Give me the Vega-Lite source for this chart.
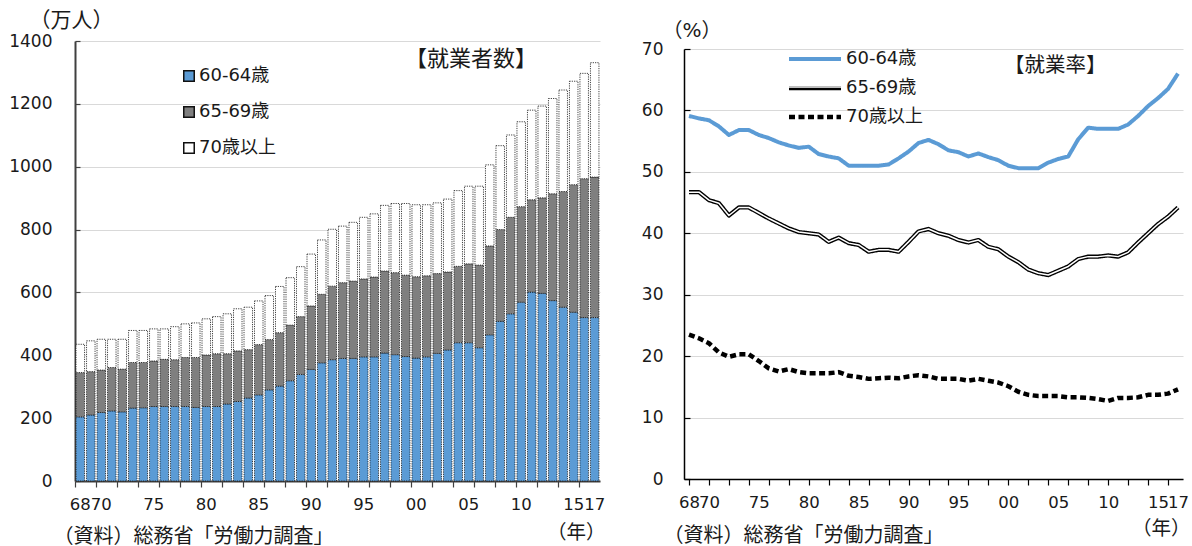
{
  "$schema": "https://vega.github.io/schema/vega-lite/v6.json",
  "autosize": {"type": "none"},
  "padding": {"left": 75, "top": 41, "right": 1117, "bottom": 505},
  "background": "white",
  "config": {
    "font": "DejaVu Sans, Noto Sans CJK JP",
    "view": {"stroke": null},
    "axis": {"labelFont": "DejaVu Sans, Noto Sans CJK JP", "titleFont": "DejaVu Sans, Noto Sans CJK JP", "labelColor": "#1a1a1a", "titleColor": "#1a1a1a", "titleFontWeight": "normal"},
    "legend": {"labelFont": "DejaVu Sans, Noto Sans CJK JP", "labelColor": "#1a1a1a"},
    "title": {"font": "DejaVu Sans, Noto Sans CJK JP", "fontWeight": "normal", "color": "#1a1a1a"}
  },
  "datasets": {
    "employment": [
      {"year": 1968, "60-64歳": 204, "65-69歳": 141, "70歳以上": 90},
      {"year": 1969, "60-64歳": 210, "65-69歳": 138, "70歳以上": 98},
      {"year": 1970, "60-64歳": 218, "65-69歳": 135, "70歳以上": 98},
      {"year": 1971, "60-64歳": 223, "65-69歳": 138, "70歳以上": 90},
      {"year": 1972, "60-64歳": 220, "65-69歳": 136, "70歳以上": 95},
      {"year": 1973, "60-64歳": 232, "65-69歳": 145, "70歳以上": 102},
      {"year": 1974, "60-64歳": 233, "65-69歳": 144, "70歳以上": 102},
      {"year": 1975, "60-64歳": 237, "65-69歳": 145, "70歳以上": 102},
      {"year": 1976, "60-64歳": 237, "65-69歳": 150, "70歳以上": 97},
      {"year": 1977, "60-64歳": 237, "65-69歳": 149, "70歳以上": 105},
      {"year": 1978, "60-64歳": 237, "65-69歳": 156, "70歳以上": 107},
      {"year": 1979, "60-64歳": 234, "65-69歳": 159, "70歳以上": 110},
      {"year": 1980, "60-64歳": 237, "65-69歳": 164, "70歳以上": 115},
      {"year": 1981, "60-64歳": 237, "65-69歳": 168, "70歳以上": 118},
      {"year": 1982, "60-64歳": 245, "65-69歳": 160, "70歳以上": 127},
      {"year": 1983, "60-64歳": 253, "65-69歳": 161, "70歳以上": 134},
      {"year": 1984, "60-64歳": 264, "65-69歳": 154, "70歳以上": 135},
      {"year": 1985, "60-64歳": 274, "65-69歳": 160, "70歳以上": 139},
      {"year": 1986, "60-64歳": 290, "65-69歳": 160, "70歳以上": 140},
      {"year": 1987, "60-64歳": 302, "65-69歳": 170, "70歳以上": 147},
      {"year": 1988, "60-64歳": 319, "65-69歳": 177, "70歳以上": 151},
      {"year": 1989, "60-64歳": 339, "65-69歳": 184, "70歳以上": 159},
      {"year": 1990, "60-64歳": 355, "65-69歳": 202, "70歳以上": 165},
      {"year": 1991, "60-64歳": 376, "65-69歳": 218, "70歳以上": 173},
      {"year": 1992, "60-64歳": 386, "65-69歳": 234, "70歳以上": 181},
      {"year": 1993, "60-64歳": 390, "65-69歳": 241, "70歳以上": 180},
      {"year": 1994, "60-64歳": 390, "65-69歳": 246, "70歳以上": 187},
      {"year": 1995, "60-64歳": 395, "65-69歳": 248, "70歳以上": 196},
      {"year": 1996, "60-64歳": 395, "65-69歳": 254, "70歳以上": 201},
      {"year": 1997, "60-64歳": 407, "65-69歳": 261, "70歳以上": 209},
      {"year": 1998, "60-64歳": 402, "65-69歳": 261, "70歳以上": 220},
      {"year": 1999, "60-64歳": 396, "65-69歳": 259, "70歳以上": 228},
      {"year": 2000, "60-64歳": 391, "65-69歳": 259, "70歳以上": 229},
      {"year": 2001, "60-64歳": 395, "65-69歳": 258, "70歳以上": 226},
      {"year": 2002, "60-64歳": 406, "65-69歳": 254, "70歳以上": 225},
      {"year": 2003, "60-64歳": 417, "65-69歳": 248, "70歳以上": 232},
      {"year": 2004, "60-64歳": 440, "65-69歳": 243, "70歳以上": 241},
      {"year": 2005, "60-64歳": 440, "65-69歳": 251, "70歳以上": 247},
      {"year": 2006, "60-64歳": 424, "65-69歳": 263, "70歳以上": 251},
      {"year": 2007, "60-64歳": 465, "65-69歳": 283, "70歳以上": 258},
      {"year": 2008, "60-64歳": 508, "65-69歳": 292, "70歳以上": 267},
      {"year": 2009, "60-64歳": 532, "65-69歳": 307, "70歳以上": 262},
      {"year": 2010, "60-64歳": 569, "65-69歳": 304, "70歳以上": 270},
      {"year": 2011, "60-64歳": 601, "65-69歳": 294, "70歳以上": 285},
      {"year": 2012, "60-64歳": 597, "65-69歳": 304, "70歳以上": 292},
      {"year": 2013, "60-64歳": 574, "65-69歳": 340, "70歳以上": 303},
      {"year": 2014, "60-64歳": 553, "65-69歳": 368, "70歳以上": 323},
      {"year": 2015, "60-64歳": 537, "65-69歳": 406, "70歳以上": 329},
      {"year": 2016, "60-64歳": 520, "65-69歳": 442, "70歳以上": 335},
      {"year": 2017, "60-64歳": 520, "65-69歳": 447, "70歳以上": 364}
    ],
    "rate": [
      {"year": 1968, "60-64歳": 59.1, "65-69歳": 46.7, "70歳以上": 23.5},
      {"year": 1969, "60-64歳": 58.7, "65-69歳": 46.7, "70歳以上": 22.9},
      {"year": 1970, "60-64歳": 58.4, "65-69歳": 45.4, "70歳以上": 22.1},
      {"year": 1971, "60-64歳": 57.4, "65-69歳": 44.9, "70歳以上": 20.6},
      {"year": 1972, "60-64歳": 56.0, "65-69歳": 42.9, "70歳以上": 19.9},
      {"year": 1973, "60-64歳": 56.8, "65-69歳": 44.2, "70歳以上": 20.3},
      {"year": 1974, "60-64歳": 56.8, "65-69歳": 44.2, "70歳以上": 20.3},
      {"year": 1975, "60-64歳": 56.0, "65-69歳": 43.3, "70歳以上": 19.2},
      {"year": 1976, "60-64歳": 55.5, "65-69歳": 42.4, "70歳以上": 18.0},
      {"year": 1977, "60-64歳": 54.8, "65-69歳": 41.6, "70歳以上": 17.5},
      {"year": 1978, "60-64歳": 54.3, "65-69歳": 40.8, "70歳以上": 17.9},
      {"year": 1979, "60-64歳": 53.9, "65-69歳": 40.2, "70歳以上": 17.4},
      {"year": 1980, "60-64歳": 54.1, "65-69歳": 40.0, "70歳以上": 17.2},
      {"year": 1981, "60-64歳": 52.9, "65-69歳": 39.8, "70歳以上": 17.2},
      {"year": 1982, "60-64歳": 52.5, "65-69歳": 38.6, "70歳以上": 17.2},
      {"year": 1983, "60-64歳": 52.2, "65-69歳": 39.3, "70歳以上": 17.4},
      {"year": 1984, "60-64歳": 51.0, "65-69歳": 38.4, "70歳以上": 16.8},
      {"year": 1985, "60-64歳": 51.0, "65-69歳": 38.1, "70歳以上": 16.6},
      {"year": 1986, "60-64歳": 51.0, "65-69歳": 37.0, "70歳以上": 16.3},
      {"year": 1987, "60-64歳": 51.0, "65-69歳": 37.3, "70歳以上": 16.4},
      {"year": 1988, "60-64歳": 51.2, "65-69歳": 37.3, "70歳以上": 16.5},
      {"year": 1989, "60-64歳": 52.2, "65-69歳": 37.0, "70歳以上": 16.4},
      {"year": 1990, "60-64歳": 53.3, "65-69歳": 38.6, "70歳以上": 16.7},
      {"year": 1991, "60-64歳": 54.7, "65-69歳": 40.3, "70歳以上": 16.9},
      {"year": 1992, "60-64歳": 55.2, "65-69歳": 40.7, "70歳以上": 16.7},
      {"year": 1993, "60-64歳": 54.5, "65-69歳": 40.0, "70歳以上": 16.3},
      {"year": 1994, "60-64歳": 53.5, "65-69歳": 39.6, "70歳以上": 16.3},
      {"year": 1995, "60-64歳": 53.2, "65-69歳": 38.9, "70歳以上": 16.3},
      {"year": 1996, "60-64歳": 52.5, "65-69歳": 38.5, "70歳以上": 16.0},
      {"year": 1997, "60-64歳": 53.0, "65-69歳": 38.9, "70歳以上": 16.3},
      {"year": 1998, "60-64歳": 52.4, "65-69歳": 37.8, "70歳以上": 16.0},
      {"year": 1999, "60-64歳": 51.9, "65-69歳": 37.4, "70歳以上": 15.7},
      {"year": 2000, "60-64歳": 51.0, "65-69歳": 36.2, "70歳以上": 15.1},
      {"year": 2001, "60-64歳": 50.6, "65-69歳": 35.3, "70歳以上": 14.2},
      {"year": 2002, "60-64歳": 50.6, "65-69歳": 34.1, "70歳以上": 13.7},
      {"year": 2003, "60-64歳": 50.6, "65-69歳": 33.5, "70歳以上": 13.5},
      {"year": 2004, "60-64歳": 51.5, "65-69歳": 33.2, "70歳以上": 13.5},
      {"year": 2005, "60-64歳": 52.1, "65-69歳": 33.9, "70歳以上": 13.5},
      {"year": 2006, "60-64歳": 52.5, "65-69歳": 34.6, "70歳以上": 13.3},
      {"year": 2007, "60-64歳": 55.3, "65-69歳": 35.8, "70歳以上": 13.3},
      {"year": 2008, "60-64歳": 57.2, "65-69歳": 36.2, "70歳以上": 13.2},
      {"year": 2009, "60-64歳": 57.0, "65-69歳": 36.2, "70歳以上": 13.0},
      {"year": 2010, "60-64歳": 57.0, "65-69歳": 36.4, "70歳以上": 12.7},
      {"year": 2011, "60-64歳": 57.0, "65-69歳": 36.2, "70歳以上": 13.2},
      {"year": 2012, "60-64歳": 57.7, "65-69歳": 36.9, "70歳以上": 13.2},
      {"year": 2013, "60-64歳": 59.1, "65-69歳": 38.5, "70歳以上": 13.3},
      {"year": 2014, "60-64歳": 60.7, "65-69歳": 40.0, "70歳以上": 13.7},
      {"year": 2015, "60-64歳": 62.0, "65-69歳": 41.5, "70歳以上": 13.7},
      {"year": 2016, "60-64歳": 63.5, "65-69歳": 42.7, "70歳以上": 13.9},
      {"year": 2017, "60-64歳": 66.0, "65-69歳": 44.2, "70歳以上": 14.6}
    ]
  },
  "hconcat": [
    {
      "width": 525,
      "height": 440,
      "data": {"name": "employment"},
      "transform": [{"fold": ["60-64歳", "65-69歳", "70歳以上"], "as": ["age", "persons"]}],
      "title": {"text": "【就業者数】", "anchor": "start", "frame": "group", "orient": "top", "baseline": "middle", "offset": 0, "fontSize": 22, "dx": 330, "dy": 72},
      "layer": [
        {
          "mark": {"type": "bar", "stroke": "#111111", "strokeWidth": 0.8, "strokeDash": [1.2, 1.1]},
          "encoding": {
            "x": {
              "field": "year", "type": "ordinal",
              "scale": {"paddingInner": 0.19, "paddingOuter": 0.1},
              "axis": {
                "orient": "bottom",
                "values": [1968, 1970, 1972, 1974, 1976, 1978, 1980, 1982, 1984, 1986, 1988, 1990, 1992, 1994, 1996, 1998, 2000, 2002, 2004, 2006, 2008, 2010, 2012, 2014, 2016],
                "bandPosition": -0.11,
                "labels": false, "grid": false,
                "tickSize": 6, "tickColor": "#404040", "tickWidth": 1.2,
                "domainColor": "#404040", "domainWidth": 2,
                "title": "（年）", "titleFontSize": 19.5, "titleAlign": "right", "titleBaseline": "middle", "titleAngle": 0,
                "titleX": 530, "titleY": 51
              }
            },
            "y": {
              "field": "persons", "type": "quantitative", "stack": "zero",
              "scale": {"domain": [0, 1400], "nice": false},
              "axis": {
                "values": [0, 200, 400, 600, 800, 1000, 1200, 1400],
                "format": "d",
                "grid": true, "gridColor": "#d9d9d9", "gridWidth": 1,
                "domainColor": "#404040", "domainWidth": 2,
                "tickColor": "#404040", "tickSize": -5, "tickWidth": 1.2,
                "labelFontSize": 17, "labelPadding": 28,
                "title": "（万人）", "titleFontSize": 21, "titleAngle": 0, "titleAlign": "left", "titleBaseline": "middle",
                "titleX": -46, "titleY": -21
              }
            },
            "color": {
              "field": "age", "type": "nominal",
              "scale": {"domain": ["60-64歳", "65-69歳", "70歳以上"], "range": ["#5b9bd5", "#7f7f7f", "#ffffff"]},
              "legend": {
                "orient": "none", "legendX": 105, "legendY": 26, "title": null, "padding": 0,
                "symbolType": "square", "symbolSize": 110,
                "labelFontSize": 18, "labelOffset": 1, "rowPadding": 18,
                "encode": {
                  "symbols": {"stroke": {"value": "#111111"}, "strokeWidth": {"value": 1}, "strokeDash": {"value": [1.2, 1.1]}}
                }
              }
            },
            "order": {"field": "age", "sort": "ascending"}
          }
        },
        {
          "mark": {"type": "point", "opacity": 0},
          "encoding": {
            "x": {
              "field": "year", "type": "ordinal",
              "axis": {
                "orient": "bottom",
                "values": [1968, 1970, 1975, 1980, 1985, 1990, 1995, 2000, 2005, 2010, 2015, 2017],
                "labelExpr": "slice(datum.label, 2)",
                "ticks": false, "domain": false, "grid": false,
                "labelAngle": 0, "labelOverlap": false, "labelFontSize": 16.5, "labelPadding": 15,
                "title": "（資料）総務省「労働力調査」", "titleFontSize": 20, "titleAlign": "left", "titleBaseline": "middle", "titleAngle": 0,
                "titleX": -22, "titleY": 55
              }
            }
          }
        }
      ],
      "resolve": {"axis": {"x": "independent"}}
    },
    {
      "width": 499,
      "height": 438,
      "data": {"name": "rate"},
      "transform": [{"fold": ["60-64歳", "65-69歳", "70歳以上"], "as": ["age", "rate"]}],
      "title": {"text": "【就業率】", "anchor": "start", "frame": "group", "orient": "top", "baseline": "middle", "offset": 0, "fontSize": 20.5, "dx": 320, "dy": 66},
      "layer": [
        {
          "mark": {"type": "line", "strokeJoin": "round", "strokeCap": "butt"},
          "encoding": {
            "x": {
              "field": "year", "type": "ordinal",
              "scale": {"paddingInner": 0, "paddingOuter": 0},
              "axis": {
                "orient": "bottom",
                "values": [1968, 1970, 1972, 1974, 1976, 1978, 1980, 1982, 1984, 1986, 1988, 1990, 1992, 1994, 1996, 1998, 2000, 2002, 2004, 2006, 2008, 2010, 2012, 2014, 2016],
                "bandPosition": 0,
                "labels": false, "grid": false,
                "tickSize": 6, "tickColor": "#000000", "tickWidth": 1.2,
                "domainColor": "#000000", "domainWidth": 1.5,
                "title": "（年）", "titleFontSize": 19.5, "titleAlign": "right", "titleBaseline": "middle", "titleAngle": 0,
                "titleX": 506, "titleY": 49
              }
            },
            "y": {
              "field": "rate", "type": "quantitative",
              "scale": {"domain": [0, 70], "nice": false, "range": [438, 8]},
              "axis": {
                "values": [0, 10, 20, 30, 40, 50, 60, 70],
                "grid": true, "gridColor": "#d9d9d9", "gridWidth": 1,
                "domainColor": "#000000", "domainWidth": 1.5,
                "tickColor": "#000000", "tickSize": -6, "tickWidth": 1.2,
                "labelFontSize": 17, "labelPadding": 27,
                "title": "（%）", "titleFontSize": 20, "titleAngle": 0, "titleAlign": "left", "titleBaseline": "middle",
                "titleX": -22, "titleY": -11
              }
            },
            "color": {
              "field": "age", "type": "nominal",
              "scale": {"domain": ["60-64歳", "65-69歳", "70歳以上"], "range": ["#5b9bd5", "#000000", "#000000"]},
              "legend": {
                "orient": "none", "legendX": 122, "legendY": 9, "title": null, "padding": 0,
                "symbolType": "M-5.2,0H5.2", "symbolSize": 100, "symbolOffset": 0,
                "labelFontSize": 18, "labelOffset": 22, "rowPadding": 11
              }
            },
            "strokeWidth": {
              "field": "age", "type": "nominal",
              "scale": {"domain": ["60-64歳", "65-69歳", "70歳以上"], "range": [4, 4.5, 2.5]},
              "legend": {
                "orient": "none", "legendX": 122, "legendY": 9, "title": null, "padding": 0,
                "symbolType": "M-5.2,0H5.2", "symbolSize": 100, "symbolOffset": 0,
                "labelFontSize": 18, "labelOffset": 22, "rowPadding": 11
              }
            },
            "strokeDash": {
              "field": "age", "type": "nominal",
              "scale": {"domain": ["60-64歳", "65-69歳", "70歳以上"], "range": [[1, 0], [1, 0], [6, 3.5]]},
              "legend": {
                "orient": "none", "legendX": 122, "legendY": 9, "title": null, "padding": 0,
                "symbolType": "M-5.2,0H5.2", "symbolSize": 100, "symbolOffset": 0,
                "labelFontSize": 18, "labelOffset": 22, "rowPadding": 11
              }
            }
          }
        },
        {
          "transform": [{"filter": "datum.age === '65-69歳'"}],
          "mark": {"type": "line", "strokeWidth": 1.5, "strokeJoin": "round"},
          "encoding": {
            "x": {"field": "year", "type": "ordinal", "axis": null},
            "y": {"field": "rate", "type": "quantitative"},
            "stroke": {
              "field": "age", "type": "nominal",
              "scale": {"domain": ["65-69歳"], "range": ["#ffffff"]},
              "legend": {
                "orient": "none", "legendX": 122, "legendY": 37, "title": null, "padding": 0,
                "symbolType": "M-5.2,0H5.2", "symbolSize": 100, "symbolOffset": 0, "symbolStrokeWidth": 1.5,
                "labelFontSize": 18, "labelOffset": 22, "labelOpacity": 0
              }
            }
          }
        },
        {
          "mark": {"type": "point", "opacity": 0},
          "encoding": {
            "x": {
              "field": "year", "type": "ordinal",
              "axis": {
                "orient": "bottom",
                "values": [1968, 1970, 1975, 1980, 1985, 1990, 1995, 2000, 2005, 2010, 2015, 2017],
                "labelExpr": "slice(datum.label, 2)",
                "ticks": false, "domain": false, "grid": false,
                "labelAngle": 0, "labelOverlap": false, "labelFontSize": 16.5, "labelPadding": 15,
                "title": "（資料）総務省「労働力調査」", "titleFontSize": 20, "titleAlign": "left", "titleBaseline": "middle", "titleAngle": 0,
                "titleX": -21, "titleY": 56
              }
            }
          }
        }
      ],
      "resolve": {"axis": {"x": "independent"}}
    }
  ],
  "resolve": {
    "scale": {"color": "independent", "strokeWidth": "independent", "strokeDash": "independent", "stroke": "independent"},
    "legend": {"color": "independent", "strokeWidth": "independent", "strokeDash": "independent", "stroke": "independent"}
  },
  "spacing": 84,
  "bounds": "flush"
}
